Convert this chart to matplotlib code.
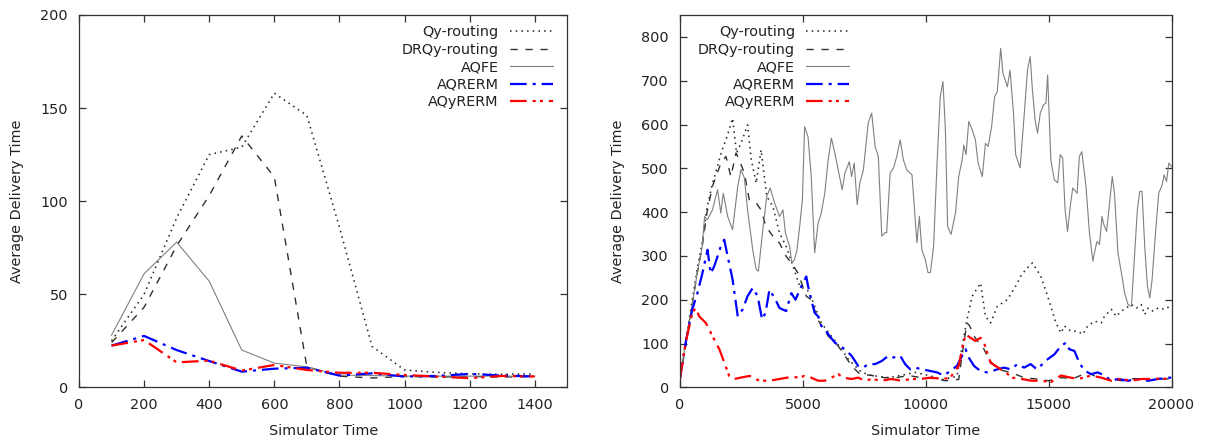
import matplotlib
matplotlib.use("Agg")
import matplotlib.pyplot as plt

# ---------------- data: left panel ----------------
left_x = [100, 200, 300, 400, 500, 600, 700, 800, 900, 1000, 1100, 1200, 1300, 1400]
left_qy = [25, 50, 91, 125, 129, 158, 146, 86, 22, 9.3, 8, 7.2, 7, 7.2]
left_drqy = [24, 43, 76, 103, 135, 113, 11, 6, 5, 5.8, 5.5, 5.8, 5.5, 5.8]
left_aqfe = [28, 61, 78, 57, 20, 13, 11, 6.6, 6.3, 6, 6, 6, 6, 6]
left_aqrerm = [22.4, 27.6, 20, 14.1, 8.4, 10, 10.5, 6.3, 7.5, 5.8, 6.1, 7.2, 6.3, 5.8]
left_aqyrerm = [22.4, 25.4, 13.4, 14.3, 9, 12, 9.3, 7.8, 7.8, 6.6, 5.8, 4.9, 6.1, 5.8]

# ---------------- data: right panel ----------------
qy_t = [0, 250, 500, 700, 900, 1100, 1300, 1500, 1700, 1900,
        2140, 2300, 2500, 2750, 2900, 3100, 3300, 3530, 3780, 4050,
        4320, 4600, 4870, 5210, 5340, 5750, 6160, 6570, 6850, 7120,
        7390, 7800, 8480, 9160, 9570, 10120, 10700, 11270, 11480, 11680,
        11890, 12230, 12430, 12640, 12910, 13320, 13660, 13870, 14070, 14340,
        14680, 14960, 15300, 15500, 15640, 15910, 16180, 16390, 16590, 16870,
        17140, 17270, 17550, 17750, 17960, 18160, 18370, 18570, 18770, 18910,
        19050, 19250, 19460, 19730, 19930, 20000]
qy_v = [20, 110, 200, 270, 330, 410, 460, 500, 540, 570,
        614, 535, 560, 599, 520, 466, 542, 436, 413, 352,
        322, 276, 231, 220, 205, 147, 117, 87, 64, 49,
        34, 27, 22, 29, 34, 27, 18, 25, 94, 155,
        208, 238, 162, 147, 185, 200, 231, 254, 269, 284,
        254, 208, 147, 124, 140, 128, 128, 121, 140, 151,
        147, 162, 178, 162, 174, 181, 189, 181, 189, 166,
        181, 174, 181, 178, 185, 180]

drqy_t = [0, 250, 500, 700, 900, 1100, 1320, 1660, 1870, 2070,
          2280, 2410, 2620, 2820, 3100, 3300, 3500, 3780, 4050, 4320,
          4530, 4800, 5140, 5340, 5620, 6030, 6440, 6710, 6980, 7320,
          7800, 8300, 8800, 9300, 9800, 10300, 10800, 11340, 11550, 11680,
          11790, 11960, 12160, 12370, 12570, 12910, 13460, 14000, 14500, 15000,
          15500, 16000, 16590, 17000, 17500, 18000, 18500, 19000, 19500, 20000]
drqy_v = [20, 100, 190, 260, 320, 400, 459, 511, 527, 481,
          535, 519, 489, 428, 421, 405, 367, 345, 329, 299,
          284, 261, 208, 200, 153, 117, 94, 72, 49, 30,
          27, 22, 22, 27, 22, 20, 15, 18, 102, 147,
          140, 117, 102, 87, 64, 41, 34, 22, 19, 15,
          22, 20, 34, 22, 18, 15, 20, 15, 18, 20]

aqfe_t = [0, 250, 500, 700, 900, 1000, 1120, 1320, 1530, 1660,
          1760, 1940, 2140, 2350, 2480, 2620, 2750, 2960, 3100, 3190,
          3370, 3530, 3670, 3850, 4050, 4190, 4290, 4460, 4550, 4660,
          4760, 4870, 4980, 5070, 5210, 5340, 5480, 5620, 5750, 5890,
          6030, 6160, 6300, 6440, 6600, 6710, 6890, 6980, 7090, 7210,
          7320, 7460, 7660, 7800, 7940, 8070, 8210, 8340, 8410, 8550,
          8690, 8820, 8960, 9090, 9230, 9440, 9640, 9740, 9840, 9980,
          10090, 10190, 10320, 10460, 10590, 10700, 10800, 10890, 11030, 11210,
          11340, 11480, 11550, 11640, 11750, 11890, 12020, 12130, 12300, 12430,
          12540, 12680, 12800, 12910, 13050, 13140, 13320, 13430, 13570, 13660,
          13840, 14000, 14140, 14250, 14340, 14450, 14550, 14660, 14790, 14890,
          14960, 15090, 15230, 15370, 15470, 15570, 15670, 15770, 15880, 15980,
          16160, 16250, 16350, 16520, 16660, 16800, 16890, 16970, 17070, 17170,
          17250, 17360, 17480, 17590, 17680, 17820, 17960, 18090, 18230, 18370,
          18470, 18610, 18710, 18800, 18910, 19020, 19120, 19210, 19350, 19480,
          19620, 19700, 19800, 19890, 20000]
aqfe_v = [20, 110, 190, 260, 320, 390, 383, 405, 451, 398,
          443, 390, 360, 459, 497, 478, 405, 314, 269, 265,
          360, 436, 455, 421, 390, 405, 352, 322, 284, 292,
          314, 367, 428, 595, 572, 481, 307, 375, 398, 443,
          519, 569, 535, 496, 451, 489, 515, 481, 512, 417,
          467, 496, 604, 626, 550, 527, 345, 353, 353, 489,
          501, 527, 565, 519, 496, 485, 330, 390, 314, 292,
          262, 262, 322, 512, 663, 698, 588, 367, 349, 398,
          481, 519, 553, 531, 607, 588, 565, 512, 481, 557,
          550, 595, 663, 675, 774, 717, 686, 724, 626, 531,
          501, 618, 724, 755, 679, 610, 580, 626, 645, 649,
          713, 519, 474, 467, 531, 524, 405, 356, 413, 455,
          443, 527, 538, 459, 353, 288, 314, 333, 326, 390,
          371, 356, 421, 481, 443, 307, 262, 216, 189, 185,
          276, 405, 447, 447, 322, 231, 204, 246, 353, 443,
          462, 485, 470, 512, 504]

aqrerm_t = [0, 230, 500, 710, 910, 1120, 1250, 1390, 1530, 1660,
            1800, 1940, 2140, 2350, 2550, 2750, 2960, 3160, 3340, 3480,
            3640, 3850, 4050, 4320, 4530, 4700, 4940, 5140, 5210, 5340,
            5480, 5620, 5750, 5890, 6090, 6300, 6500, 6710, 6980, 7250,
            7460, 7660, 7940, 8210, 8480, 8690, 8960, 9160, 9370, 9570,
            9840, 10120, 10460, 10730, 11000, 11270, 11480, 11620, 11750, 11960,
            12230, 12500, 12710, 12910, 13180, 13460, 13730, 14000, 14270, 14520,
            14750, 14960, 15230, 15500, 15710, 15840, 16050, 16250, 16460, 16730,
            17000, 17270, 17550, 17820, 18230, 18640, 19050, 19460, 19870, 20000]
aqrerm_v = [20, 102, 178, 215, 260, 314, 260, 276, 299, 322,
            337, 299, 246, 162, 178, 208, 227, 208, 155, 170,
            223, 204, 181, 174, 215, 200, 231, 253, 231, 200,
            170, 162, 140, 132, 117, 102, 94, 87, 72, 49,
            45, 53, 53, 60, 72, 68, 72, 53, 41, 45,
            41, 38, 34, 27, 37, 49, 72, 87, 68, 49,
            37, 34, 37, 41, 45, 41, 53, 45, 53, 41,
            53, 64, 75, 94, 102, 87, 83, 56, 38, 30,
            34, 27, 15, 19, 15, 19, 15, 19, 22, 22]

aqyrerm_t = [0, 230, 500, 640, 780, 1050, 1320, 1600, 1800, 2000,
             2210, 2550, 2830, 3230, 3640, 4050, 4460, 4870, 5070, 5340,
             5620, 5890, 6160, 6440, 6640, 6980, 7250, 7530, 7800, 8200,
             8600, 9000, 9400, 9800, 10200, 10700, 11000, 11340, 11480, 11620,
             11820, 12020, 12230, 12370, 12500, 12640, 12840, 13050, 13250, 13520,
             13900, 14300, 14700, 15100, 15500, 15900, 16200, 16730, 17140, 17550,
             17960, 18370, 18780, 19190, 19600, 20000]
aqyrerm_v = [20, 102, 170, 181, 162, 147, 117, 87, 57, 26,
             19, 23, 26, 15, 15, 19, 23, 23, 26, 22,
             15, 15, 22, 30, 22, 19, 22, 15, 19, 15,
             19, 15, 19, 19, 22, 19, 22, 49, 87, 121,
             113, 106, 113, 102, 79, 56, 49, 41, 34, 22,
             19, 15, 15, 12, 27, 22, 19, 27, 22, 15,
             19, 15, 19, 19, 20, 19]

labels = ["Qy-routing", "DRQy-routing", "AQFE", "AQRERM", "AQyRERM"]
left_xticks = [0, 200, 400, 600, 800, 1000, 1200, 1400]
left_yticks = [0, 50, 100, 150, 200]
right_xticks = [0, 5000, 10000, 15000, 20000]
right_yticks = [0, 100, 200, 300, 400, 500, 600, 700, 800]

# ---------------- styling ----------------
plt.rcParams['font.family'] = ['DejaVu Sans']
plt.rcParams['lines.scale_dashes'] = False
TXT = '#222222'
styles = [
    dict(color='#262626', lw=1.15, ls=(0, (1.1, 3.0))),
    dict(color='#303030', lw=1.0, ls=(0, (5.2, 5.6))),
    dict(color='#808080', lw=0.8, ls='-'),
    dict(color='#0000ff', lw=1.6, ls=(0, (12, 4.3, 2.2, 4.3))),
    dict(color='#ff0000', lw=1.6, ls=(0, (12, 4.3, 2.2, 3, 2.2, 4.3))),
]

fig = plt.figure(figsize=(12.06, 4.42), dpi=100)
ax1 = fig.add_axes([79 / 1206, 1 - 387.3 / 442, (567.3 - 79) / 1206, (387.3 - 15) / 442])
ax2 = fig.add_axes([680 / 1206, 1 - 387.3 / 442, (1171.5 - 680) / 1206, (387.3 - 15) / 442])

left_series = [left_qy, left_drqy, left_aqfe, left_aqrerm, left_aqyrerm]
for ys, lab, st in zip(left_series, labels, styles):
    ax1.plot(left_x, ys, label=lab, **st)

right_series = [(qy_t, qy_v), (drqy_t, drqy_v), (aqfe_t, aqfe_v),
                (aqrerm_t, aqrerm_v), (aqyrerm_t, aqyrerm_v)]
for (xs, ys), lab, st in zip(right_series, labels, styles):
    ax2.plot(xs, ys, label=lab, **st)

ax1.set_xlim(0, 1500)
ax1.set_ylim(0, 200)
ax1.set_xticks(left_xticks)
ax1.set_yticks(left_yticks)
ax2.set_xlim(0, 20000)
ax2.set_ylim(0, 850)
ax2.set_xticks(right_xticks)
ax2.set_yticks(right_yticks)

for ax in (ax1, ax2):
    for sp in ax.spines.values():
        sp.set_color('#333333')
        sp.set_linewidth(0.9)
    ax.tick_params(direction='in', length=5, width=0.9, color='#333333',
                   top=True, right=True, labelsize=10.4, labelcolor=TXT, pad=8)
    ax.set_xlabel('Simulator Time', fontsize=10.4, color=TXT, labelpad=8)
    ax.set_ylabel('Average Delivery Time', fontsize=10.4, color=TXT, labelpad=12)

leg_kw = dict(frameon=False, markerfirst=False, fontsize=10.4, handlelength=3.0,
              handletextpad=0.75, labelspacing=0.25, borderpad=0, borderaxespad=0,
              labelcolor=TXT)
ax1.legend(loc='upper right', bbox_to_anchor=((553 - 79) / (567.3 - 79), (387.3 - 25) / 372.3), **leg_kw)
ax2.legend(loc='upper left', bbox_to_anchor=((698 - 680) / (1171.5 - 680), (387.3 - 25) / 372.3), **leg_kw)

fig.savefig('out.png', dpi=100)
